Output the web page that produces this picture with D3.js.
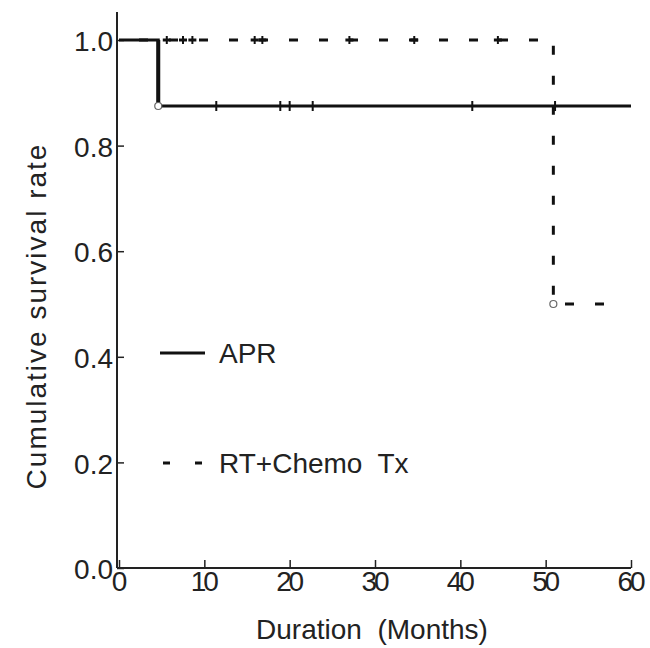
<!DOCTYPE html>
<html>
<head>
<meta charset="utf-8">
<script src="https://cdn.jsdelivr.net/npm/d3@7"></script>
<style>
  body { margin: 0; background: #fff; }
  text { font-family: "Liberation Sans", Arial, sans-serif; fill: #222; }
</style>
</head>
<body>
<svg width="650" height="648"></svg>
<script>
// Kaplan-Meier step data
const aprTimes = [0, 4.6];
const aprSurv = [1.0, 0.875];
const aprEnd = 60;
const aprCensored = [11.4, 18.9, 20.0, 22.7, 41.4, 51.1];

const chemoTimes = [0, 50.9];
const chemoSurv = [1.0, 0.5];
const chemoEnd = 58.5;
const chemoCensored = [5.6, 7.5, 8.6, 15.9, 16.8, 27.0, 34.6, 44.4];

const xTicks = [0, 10, 20, 30, 40, 50, 60];
const yTicks = [0, 0.2, 0.4, 0.6, 0.8, 1.0];

const svg = d3.select("svg");
const x = d3.scaleLinear().domain([0, 60]).range([119, 631]);
const y = d3.scaleLinear().domain([0, 1]).range([568, 40]);
const fs = 28;

// build step points
function steps(times, surv, end) {
  const pts = [];
  times.forEach((t, i) => {
    if (i > 0) pts.push([t, surv[i - 1]]);
    pts.push([t, surv[i]]);
  });
  pts.push([end, surv[surv.length - 1]]);
  return pts;
}
function survAt(times, surv, t) {
  let s = surv[0];
  times.forEach((tt, i) => { if (tt <= t) s = surv[i]; });
  return s;
}
const line = d3.line().x(d => x(d[0])).y(d => y(d[1]));

// axes
const xAxis = svg.append("g")
  .attr("transform", `translate(0,${y(0)})`)
  .call(d3.axisBottom(x).tickValues(xTicks).tickSize(-8).tickPadding(10).tickFormat(d3.format("d")));
const yAxis = svg.append("g")
  .attr("transform", `translate(${x(0) - 2},0)`)
  .call(d3.axisLeft(y).tickValues(yTicks).tickSize(-7).tickPadding(4).tickFormat(d3.format(".1f")));
[xAxis, yAxis].forEach(g => {
  g.select(".domain").remove();
  g.selectAll("line").attr("stroke", "#222").attr("stroke-width", 1.5);
  g.selectAll("text").attr("font-size", fs).style("fill", "#222");
});
xAxis.selectAll("text").attr("dy", "0.45em").attr("textLength", d => d === 0 ? null : 28);
yAxis.selectAll("text").attr("dy", "0.38em");
svg.append("line").attr("x1", x(0) - 2).attr("x2", x(0) - 2).attr("y1", 12).attr("y2", y(0))
  .attr("stroke", "#222").attr("stroke-width", 2);
svg.append("line").attr("x1", x(0) - 2).attr("x2", x(60)).attr("y1", y(0)).attr("y2", y(0))
  .attr("stroke", "#222").attr("stroke-width", 2);

// chemo (dashed) curve
const chemoPts = steps(chemoTimes, chemoSurv, chemoEnd);
svg.append("path").datum(chemoPts).attr("d", line)
  .attr("fill", "none").attr("stroke", "#111").attr("stroke-width", 3)
  .attr("stroke-dasharray", "9,21").attr("stroke-dashoffset", -20);
svg.append("g").selectAll("line").data(chemoCensored).join("line")
  .attr("x1", d => x(d)).attr("x2", d => x(d))
  .attr("y1", d => y(survAt(chemoTimes, chemoSurv, d)) - 4)
  .attr("y2", d => y(survAt(chemoTimes, chemoSurv, d)) + 4)
  .attr("stroke", "#111").attr("stroke-width", 2);
svg.append("g").selectAll("line").data(chemoCensored).join("line")
  .attr("x1", d => x(d) - 4).attr("x2", d => x(d) + 4)
  .attr("y1", d => y(survAt(chemoTimes, chemoSurv, d)))
  .attr("y2", d => y(survAt(chemoTimes, chemoSurv, d)))
  .attr("stroke", "#111").attr("stroke-width", 3);

// APR (solid) curve
const aprPts = steps(aprTimes, aprSurv, aprEnd);
svg.append("path").datum(aprPts).attr("d", line)
  .attr("fill", "none").attr("stroke", "#111").attr("stroke-width", 3);
svg.append("line").attr("x1", x(aprTimes[1])).attr("x2", x(aprTimes[1]))
  .attr("y1", y(aprSurv[0])).attr("y2", y(aprSurv[1])).attr("stroke", "#111").attr("stroke-width", 4);
svg.append("g").selectAll("line").data(aprCensored).join("line")
  .attr("x1", d => x(d)).attr("x2", d => x(d))
  .attr("y1", d => y(survAt(aprTimes, aprSurv, d)) - 5)
  .attr("y2", d => y(survAt(aprTimes, aprSurv, d)) + 5)
  .attr("stroke", "#111").attr("stroke-width", 2);

// event circles
const events = [[aprTimes[1], aprSurv[1]], [chemoTimes[1], chemoSurv[1]]];
svg.append("g").selectAll("circle").data(events).join("circle")
  .attr("cx", d => x(d[0])).attr("cy", d => y(d[1])).attr("r", 3.5)
  .attr("fill", "#fff").attr("stroke", "#666").attr("stroke-width", 1.2);

// legend
svg.append("line").attr("x1", 160).attr("x2", 205).attr("y1", 353).attr("y2", 353)
  .attr("stroke", "#111").attr("stroke-width", 3);
svg.append("text").attr("x", 219).attr("y", 363).attr("font-size", fs).text("APR");
svg.append("line").attr("x1", 163).attr("x2", 202).attr("y1", 463).attr("y2", 463)
  .attr("stroke", "#111").attr("stroke-width", 3).attr("stroke-dasharray", "7,25");
svg.append("text").attr("x", 219).attr("y", 473).attr("font-size", fs).text("RT+Chemo\u00a0 Tx");

// axis titles
svg.append("text").attr("x", 372).attr("y", 639).attr("text-anchor", "middle")
  .attr("font-size", fs).text("Duration\u00a0 (Months)");
svg.append("text").attr("transform", "translate(46,316) rotate(-90)").attr("text-anchor", "middle")
  .attr("font-size", fs).attr("letter-spacing", 2).text("Cumulative survival rate");
</script>
</body>
</html>
